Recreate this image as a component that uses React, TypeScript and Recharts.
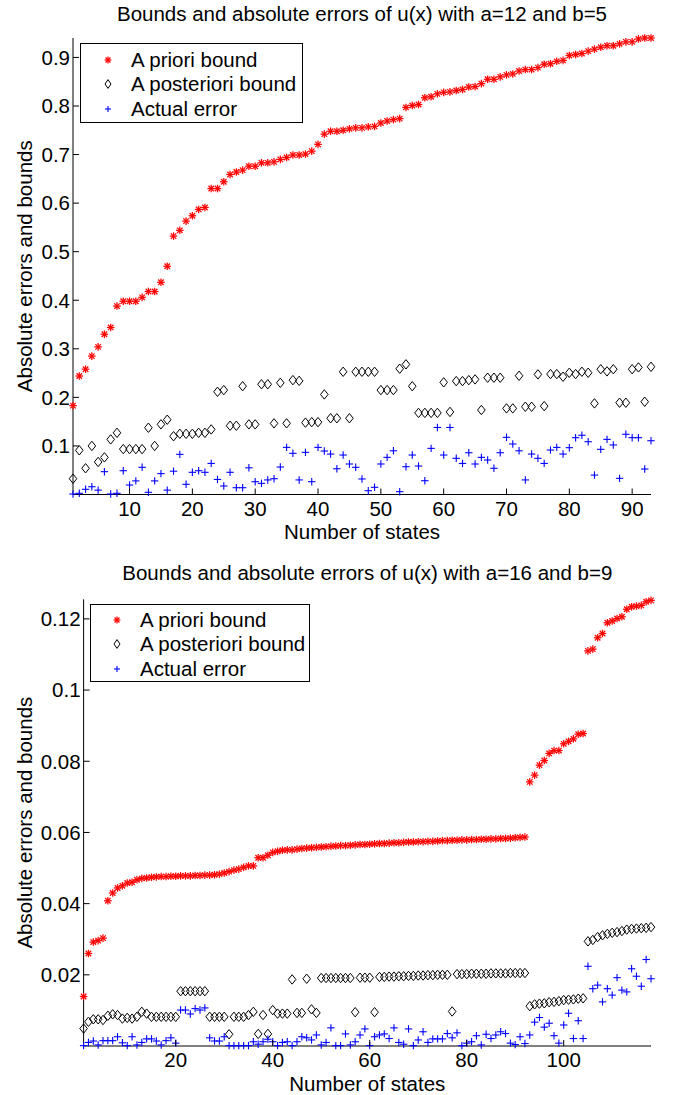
import { Legend, Scatter, ScatterChart, XAxis, YAxis } from 'recharts';

const FONT = '"Liberation Sans", Arial, Helvetica, sans-serif';
const FS = 20.5;

const SERIES_NAMES = ['A priori bound', 'A posteriori bound', 'Actual error'];

// a = 12, b = 5
const statesA = Array.from({ length: 93 }, (_, i) => i + 1);
const prioriA = [
  0.183, 0.244, 0.258, 0.285, 0.304, 0.33, 0.344, 0.388, 0.398, 0.398,
  0.398, 0.406, 0.418, 0.418, 0.437, 0.47, 0.532, 0.544, 0.563, 0.574,
  0.587, 0.591, 0.63, 0.63, 0.644, 0.659, 0.664, 0.668, 0.676, 0.676,
  0.683, 0.683, 0.685, 0.69, 0.694, 0.699, 0.699, 0.701, 0.707, 0.721,
  0.742, 0.748, 0.748, 0.75, 0.753, 0.755, 0.755, 0.757, 0.758, 0.765,
  0.769, 0.772, 0.774, 0.797, 0.801, 0.803, 0.817, 0.819, 0.825, 0.828,
  0.829, 0.832, 0.834, 0.839, 0.84, 0.846, 0.855, 0.855, 0.86, 0.864,
  0.866, 0.872, 0.875, 0.875, 0.879, 0.886, 0.887, 0.892, 0.894, 0.904,
  0.906, 0.908, 0.913, 0.917, 0.921, 0.924, 0.924, 0.928, 0.932, 0.932,
  0.938, 0.94, 0.94
];
const posterioriA = [
  0.0325, 0.091, 0.054, 0.1, 0.067, 0.0765, 0.1135, 0.127, 0.0935, 0.0935,
  0.0935, 0.0935, 0.1375, 0.1, 0.1445, 0.154, 0.12, 0.125, 0.125, 0.125,
  0.127, 0.127, 0.134, 0.2115, 0.215, 0.1416, 0.1416, 0.223, 0.1444, 0.1444,
  0.227, 0.227, 0.1465, 0.23, 0.1465, 0.2355, 0.234, 0.148, 0.149, 0.149,
  0.206, 0.157, 0.157, 0.2527, 0.157, 0.2527, 0.2527, 0.2527, 0.2527, 0.215,
  0.215, 0.215, 0.259, 0.268, 0.223, 0.168, 0.168, 0.168, 0.168, 0.231,
  0.17, 0.2335, 0.2335, 0.2355, 0.237, 0.174, 0.2405, 0.2405, 0.2405, 0.1773,
  0.1773, 0.2445, 0.1807, 0.1807, 0.2473, 0.182, 0.248, 0.248, 0.2425, 0.2507,
  0.248, 0.2527, 0.2507, 0.1876, 0.258, 0.2535, 0.258, 0.189, 0.189, 0.258,
  0.2617, 0.191, 0.263
];
const actualA = [
  0.001, 0.0025, 0.0107, 0.016, 0.009, 0.047, 0.001, 0.0025, 0.049, 0.0195,
  0.028, 0.056, 0.0045, 0.028, 0.043, 0.009, 0.048, 0.0827, 0.021, 0.0457,
  0.049, 0.0457, 0.064, 0.031, 0.0175, 0.0457, 0.014, 0.014, 0.055, 0.0264,
  0.023, 0.03, 0.0325, 0.0566, 0.097, 0.0848, 0.03, 0.0868, 0.0264, 0.097,
  0.0895, 0.0833, 0.053, 0.0813, 0.0628, 0.056, 0.032, 0.0078, 0.0148, 0.0628,
  0.0765, 0.09, 0.0058, 0.0572, 0.0813, 0.0586, 0.0284, 0.095, 0.138, 0.0813,
  0.138, 0.0745, 0.064, 0.086, 0.0628, 0.0765, 0.071, 0.054, 0.086, 0.1177,
  0.104, 0.09, 0.03, 0.0833, 0.0745, 0.064, 0.0916, 0.097, 0.0833, 0.0964,
  0.117, 0.122, 0.1087, 0.04, 0.093, 0.1135, 0.102, 0.0333, 0.124, 0.117,
  0.117, 0.0525, 0.1107
];
const xTicksA = [10, 20, 30, 40, 50, 60, 70, 80, 90];
const yTicksA = [0.1, 0.2, 0.3, 0.4, 0.5, 0.6, 0.7, 0.8, 0.9];

// a = 16, b = 9
const statesB = Array.from({ length: 118 }, (_, i) => i + 1);
const prioriB = [
  0.0139, 0.026, 0.0292, 0.0296, 0.0303, 0.0408, 0.043, 0.0444, 0.045, 0.0458,
  0.046, 0.0467, 0.0471, 0.0472, 0.0474, 0.0475, 0.0476, 0.0476, 0.0477, 0.0477,
  0.0478, 0.0478, 0.0478, 0.0479, 0.0479, 0.048, 0.048, 0.0481, 0.0483, 0.0486,
  0.049, 0.0494, 0.0497, 0.0502, 0.0506, 0.0506, 0.0529, 0.0529, 0.0536, 0.0544,
  0.0547, 0.055, 0.0551, 0.0551, 0.0553, 0.0555, 0.0556, 0.0557, 0.0558, 0.0559,
  0.056, 0.0561, 0.0562, 0.0563, 0.0563, 0.0564, 0.0565, 0.0566, 0.0566, 0.0567,
  0.0568, 0.0569, 0.0569, 0.057, 0.0571, 0.0571, 0.0572, 0.0573, 0.0573, 0.0574,
  0.0574, 0.0575, 0.0575, 0.0576, 0.0577, 0.0577, 0.0578, 0.0578, 0.0579, 0.0579,
  0.058, 0.058, 0.0581, 0.0581, 0.0582, 0.0582, 0.0583, 0.0583, 0.0584, 0.0585,
  0.0586, 0.0587, 0.0742, 0.0761, 0.0789, 0.0802, 0.0822, 0.083, 0.083, 0.0849,
  0.0856, 0.0863, 0.0876, 0.0878, 0.111, 0.1115, 0.1147, 0.1159, 0.1189, 0.1194,
  0.1201, 0.1206, 0.1227, 0.1234, 0.1236, 0.1238, 0.1248, 0.1252
];
const posterioriB = [
  0.0049, 0.0068, 0.0075, 0.0075, 0.0073, 0.0085, 0.0089, 0.0087, 0.0077, 0.0079,
  0.0077, 0.0082, 0.0096, 0.0091, 0.0082, 0.0082, 0.0082, 0.0082, 0.0082, 0.0082,
  0.0154, 0.0154, 0.0154, 0.0154, 0.0154, 0.0154, 0.0082, 0.0082, 0.0082, 0.0082,
  0.0033, 0.0082, 0.0082, 0.0082, 0.0087, 0.0096, 0.0034, 0.0087, 0.0034, 0.0101,
  0.0091, 0.0091, 0.0091, 0.0187, 0.0093, 0.0093, 0.0189, 0.0103, 0.0093, 0.0191,
  0.0191, 0.0191, 0.0191, 0.0191, 0.0191, 0.0191, 0.0095, 0.0192, 0.0192, 0.0192,
  0.0095, 0.0194, 0.0194, 0.0195, 0.0195, 0.0196, 0.0196, 0.0197, 0.0197, 0.0198,
  0.0198, 0.0199, 0.0199, 0.02, 0.02, 0.02, 0.0097, 0.0202, 0.0202, 0.0202,
  0.0203, 0.0203, 0.0203, 0.0203, 0.0204, 0.0204, 0.0204, 0.0204, 0.0205, 0.0205,
  0.0205, 0.0205, 0.0112, 0.0117, 0.0119, 0.012, 0.0123, 0.0124, 0.0126, 0.0129,
  0.013, 0.0131, 0.0133, 0.0134, 0.0294, 0.0298, 0.0306, 0.0311, 0.0315, 0.0318,
  0.032, 0.0323, 0.0327, 0.0329, 0.033, 0.0331, 0.0332, 0.0334
];
const actualB = [
  0.0001, 0.001, 0.0014, 0.0003, 0.0015, 0.0015, 0.0015, 0.0026, 0.0009, 0.0001,
  0.0026, 0.0003, 0.001, 0.002, 0.002, 0.0014, 0.0003, 0.0015, 0.0023, 0.0008,
  0.0101, 0.0101, 0.009, 0.0105, 0.0101, 0.0107, 0.0023, 0.0014, 0.0014, 0.0026,
  0.0001, 0.0001, 0.0001, 0.0001, 0.0001, 0.0012, 0.0005, 0.0012, 0.0019, 0.0012,
  0.0001, 0.001, 0.0012, 0.0001, 0.0012, 0.0026, 0.0023, 0.0017, 0.0031, 0.0003,
  0.001, 0.0051, 0.0001, 0.0001, 0.0034, 0.0003, 0.0012, 0.0031, 0.0048, 0.0001,
  0.0026, 0.0031, 0.0034, 0.0021, 0.0051, 0.001, 0.0005, 0.0048, 0.0001, 0.0017,
  0.004, 0.001, 0.002, 0.002, 0.002, 0.0035, 0.0023, 0.0037, 0.0001, 0.0008,
  0.0012, 0.0029, 0.0003, 0.0033, 0.0021, 0.0031, 0.004, 0.0035, 0.0008, 0.0004,
  0.0026, 0.0007, 0.0031, 0.0067, 0.008, 0.0053, 0.0064, 0.0029, 0.0008, 0.0059,
  0.0092, 0.0021, 0.0071, 0.0021, 0.0224, 0.0161, 0.0171, 0.0124, 0.0161, 0.0143,
  0.0192, 0.0157, 0.0152, 0.0217, 0.0196, 0.0168, 0.0243, 0.0189
];
const xTicksB = [20, 40, 60, 80, 100];
const yTicksB = [0.02, 0.04, 0.06, 0.08, 0.1, 0.12];

function toPoints(xs: number[], ys: number[]) {
  return xs.map((x, i) => ({ x, y: ys[i] }));
}

function Asterisk({ cx, cy, r = 3.8 }: any) {
  const d = r * 0.72;
  return (
    <g stroke="#ff0000" strokeWidth={1.25}>
      <line x1={cx - r} y1={cy} x2={cx + r} y2={cy} />
      <line x1={cx} y1={cy - r} x2={cx} y2={cy + r} />
      <line x1={cx - d} y1={cy - d} x2={cx + d} y2={cy + d} />
      <line x1={cx - d} y1={cy + d} x2={cx + d} y2={cy - d} />
    </g>
  );
}

function Diamond({ cx, cy, w = 3.8, h = 4.7 }: any) {
  return (
    <polygon
      points={`${cx},${cy - h} ${cx + w},${cy} ${cx},${cy + h} ${cx - w},${cy}`}
      fill="none"
      stroke="#000"
      strokeWidth={1}
    />
  );
}

function Plus({ cx, cy, r = 3.7 }: any) {
  return (
    <g stroke="#0000ff" strokeWidth={1.1}>
      <line x1={cx - r} y1={cy} x2={cx + r} y2={cy} />
      <line x1={cx} y1={cy - r} x2={cx} y2={cy + r} />
    </g>
  );
}

function YTick({ x, y, payload }: any) {
  const axisX = x + 3;
  return (
    <g>
      <line x1={axisX} y1={y} x2={axisX + 6} y2={y} stroke="#000" />
      <text x={x} y={y + 7.3} textAnchor="end" fontSize={FS} fontFamily={FONT} fill="#000">
        {String(payload.value)}
      </text>
    </g>
  );
}

function XTick({ x, y, payload }: any) {
  return (
    <g>
      <line x1={x} y1={y} x2={x} y2={y - 6} stroke="#000" />
      <text x={x} y={y + 21} textAnchor="middle" fontSize={FS} fontFamily={FONT} fill="#000">
        {String(payload.value)}
      </text>
    </g>
  );
}

function XLabel({ viewBox }: any) {
  return (
    <text
      x={viewBox.x + viewBox.width / 2}
      y={viewBox.y + 44.5}
      textAnchor="middle"
      fontSize={FS}
      fontFamily={FONT}
      fill="#000"
    >
      Number of states
    </text>
  );
}

function YLabel({ viewBox }: any) {
  const cy = viewBox.y + viewBox.height / 2;
  return (
    <text
      x={31.7}
      y={cy}
      transform={`rotate(-90 31.7 ${cy})`}
      textAnchor="middle"
      fontSize={FS}
      fontFamily={FONT}
      fill="#000"
    >
      Absolute errors and bounds
    </text>
  );
}

function legendContent(box: { w: number; h: number; rows: number[]; mx: number; tx: number }) {
  return ({ payload }: any) => {
    const items = [...(payload || [])].sort(
      (a: any, b: any) => SERIES_NAMES.indexOf(a.value) - SERIES_NAMES.indexOf(b.value)
    );
    return (
      <div
        style={{
          position: 'relative',
          width: box.w,
          height: box.h,
          boxSizing: 'border-box',
          border: '1px solid #000',
          background: '#fff',
          fontFamily: FONT,
          fontSize: FS,
          color: '#000'
        }}
      >
        {items.map((item: any) => {
          const k = SERIES_NAMES.indexOf(item.value);
          return (
            <div key={item.value} style={{ position: 'absolute', left: 0, top: box.rows[k] - 12, height: 24, width: box.w }}>
              <svg width={14} height={24} style={{ position: 'absolute', left: box.mx - 7, top: 0 }}>
                {k === 0 && <Asterisk cx={7} cy={12} r={3.4} />}
                {k === 1 && <Diamond cx={7} cy={12} w={3} h={4.4} />}
                {k === 2 && <Plus cx={7} cy={12} r={3} />}
              </svg>
              <span style={{ position: 'absolute', left: box.tx, top: 0, lineHeight: '24px', whiteSpace: 'nowrap' }}>
                {item.value}
              </span>
            </div>
          );
        })}
      </div>
    );
  };
}

type PanelProps = {
  title: string;
  states: number[];
  priori: number[];
  posteriori: number[];
  actual: number[];
  xMax: number;
  yMax: number;
  xTicks: number[];
  yTicks: number[];
  height: number;
  top: number;
  axisWidth: number;
  axisHeight: number;
  titleY: number;
  legendBox: { left: number; top: number; w: number; h: number; rows: number[]; mx: number; tx: number };
};

function Panel(p: PanelProps) {
  return (
    <div style={{ position: 'relative', width: 675, height: p.height }}>
      <div
        style={{
          position: 'absolute',
          left: (p.axisWidth + 651) / 2,
          top: p.titleY,
          transform: 'translateX(-50%)',
          fontFamily: FONT,
          fontSize: FS,
          lineHeight: '20px',
          whiteSpace: 'nowrap',
          color: '#000'
        }}
      >
        {p.title}
      </div>
      <ScatterChart width={675} height={p.height} margin={{ top: p.top, right: 24, bottom: 0, left: 0 }}>
        <XAxis
          type="number"
          dataKey="x"
          domain={[1, p.xMax]}
          ticks={p.xTicks}
          height={p.axisHeight}
          tickLine={false}
          tickSize={0}
          tickMargin={0}
          tick={<XTick />}
          axisLine={{ stroke: '#000' }}
          label={<XLabel />}
        />
        <YAxis
          type="number"
          dataKey="y"
          domain={[0, p.yMax]}
          ticks={p.yTicks}
          width={p.axisWidth}
          tickLine={false}
          tickSize={0}
          tickMargin={3}
          tick={<YTick />}
          axisLine={{ stroke: '#000' }}
          label={<YLabel />}
        />
        <Legend
          layout="vertical"
          align="center"
          verticalAlign="middle"
          wrapperStyle={{ left: p.legendBox.left, top: p.legendBox.top, width: 'auto', height: 'auto' }}
          content={legendContent(p.legendBox)}
        />
        <Scatter name={SERIES_NAMES[0]} data={toPoints(p.states, p.priori)} shape={<Asterisk />} isAnimationActive={false} />
        <Scatter name={SERIES_NAMES[1]} data={toPoints(p.states, p.posteriori)} shape={<Diamond />} isAnimationActive={false} />
        <Scatter name={SERIES_NAMES[2]} data={toPoints(p.states, p.actual)} shape={<Plus />} isAnimationActive={false} />
      </ScatterChart>
    </div>
  );
}

export default function App() {
  return (
    <div style={{ width: 675, height: 1095, background: '#fff' }}>
      <style>{'body{margin:0;background:#fff}'}</style>
      <Panel
        title="Bounds and absolute errors of u(x) with a=12 and b=5"
        states={statesA}
        priori={prioriA}
        posteriori={posterioriA}
        actual={actualA}
        xMax={93}
        yMax={0.94}
        xTicks={xTicksA}
        yTicks={yTicksA}
        height={545}
        top={38}
        axisWidth={73}
        axisHeight={50.5}
        titleY={4}
        legendBox={{ left: 80, top: 43, w: 223, h: 80, rows: [16.3, 40.3, 65.3], mx: 27, tx: 50 }}
      />
      <Panel
        title="Bounds and absolute errors of u(x) with a=16 and b=9"
        states={statesB}
        priori={prioriB}
        posteriori={posterioriB}
        actual={actualB}
        xMax={118}
        yMax={0.1255}
        xTicks={xTicksB}
        yTicks={yTicksB}
        height={550}
        top={54.3}
        axisWidth={83.6}
        axisHeight={49}
        titleY={18}
        legendBox={{ left: 90, top: 59, w: 220, h: 78, rows: [15.3, 39.3, 63.7], mx: 26, tx: 49 }}
      />
    </div>
  );
}
